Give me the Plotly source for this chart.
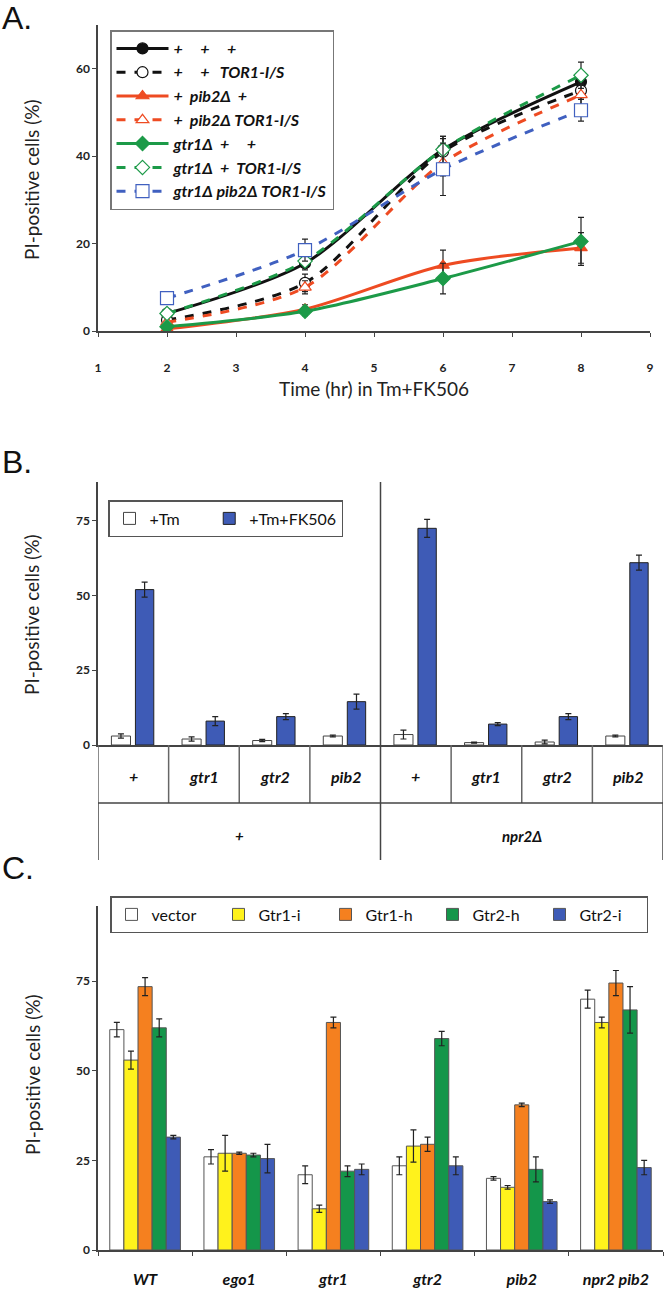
import plotly.graph_objects as go

# ---------------- Panel A data ----------------
time_hr = [2, 4, 6, 8]
a_wt = [4, 15.5, 41.5, 57]
a_wt_err = [0.5, 1.5, 3, 2]
a_tor = [2.5, 11, 41, 55]
a_tor_err = [0.5, 2, 3, 2]
a_pib2 = [0.5, 5, 15, 19]
a_pib2_err = [0.5, 1, 3.5, 3.5]
a_pib2_tor = [2, 10, 38.5, 54]
a_pib2_tor_err = [0.5, 1.5, 3, 2.5]
a_gtr1 = [1, 4.5, 12, 20.5]
a_gtr1_err = [0.5, 1, 3.5, 5.5]
a_gtr1_tor = [4, 16, 41.5, 58.5]
a_gtr1_tor_err = [0.5, 1.5, 3, 3]
a_gtr1_pib2_tor = [7.5, 18.5, 37, 50.5]
a_gtr1_pib2_tor_err = [0.5, 2.5, 6, 2.5]
a_x_ticks = [1, 2, 3, 4, 5, 6, 7, 8, 9]
a_y_ticks = [0, 20, 40, 60]

# ---------------- Panel B data ----------------
b_pos = [0, 1, 2, 3, 4, 5, 6, 7]
b_row1 = ["+", "gtr1", "gtr2", "pib2", "+", "gtr1", "gtr2", "pib2"]
b_row2 = ["+", "npr2Δ"]
b_tm = [3, 2, 1.5, 3, 3.5, 0.8, 1, 3]
b_tm_err = [0.7, 0.7, 0.4, 0.3, 1.5, 0.2, 0.6, 0.3]
b_fk = [52, 8, 9.5, 14.5, 72.5, 7, 9.5, 61]
b_fk_err = [2.5, 1.5, 1, 2.5, 3, 0.5, 1, 2.5]
b_y_ticks = [0, 25, 50, 75]

# ---------------- Panel C data ----------------
c_strains = ["WT", "ego1", "gtr1", "gtr2", "pib2", "npr2 pib2"]
c_vector = [61.5, 26, 21, 23.5, 20, 70]
c_vector_err = [2, 2, 2.5, 2.5, 0.5, 2.5]
c_gtr1_i = [53, 27, 11.5, 29, 17.5, 63.5]
c_gtr1_i_err = [2.5, 5, 1, 4.5, 0.5, 1.5]
c_gtr1_h = [73.5, 27, 63.5, 29.5, 40.5, 74.5]
c_gtr1_h_err = [2.5, 0.3, 1.5, 2, 0.5, 3.5]
c_gtr2_h = [62, 26.5, 22, 59, 22.5, 67]
c_gtr2_h_err = [2.5, 0.5, 1.5, 2, 3.5, 6.5]
c_gtr2_i = [31.5, 25.5, 22.5, 23.5, 13.5, 23]
c_gtr2_i_err = [0.5, 4, 1.5, 2.5, 0.5, 2]
c_y_ticks = [0, 25, 50, 75]

W, H = 666, 1296
FONT = "Lato, 'Open Sans', sans-serif"
BLACK = "#111111"
RED = "#EE4B22"
GREEN = "#1C9A48"
BLUE = "#4060C0"

def px(xp):
    return xp / W

def py(yp):
    return 1 - yp / H

fig = go.Figure()

def err(arr):
    return dict(type="data", array=arr, color="#222", thickness=1.2, width=3)

# ---------------- Panel A traces ----------------
sp = "\u00a0"
a_series = [
    (a_wt, a_wt_err, f"+{sp*5}+{sp*5}+", BLACK, "solid", "circle", BLACK),
    (a_tor, a_tor_err, f"+{sp*5}+{sp*3}TOR1-I/S", BLACK, "dash", "circle", "white"),
    (a_pib2, a_pib2_err, f"+{sp*2}pib2Δ{sp*2}+", RED, "solid", "triangle-up", RED),
    (a_pib2_tor, a_pib2_tor_err, f"+{sp*2}pib2Δ TOR1-I/S", RED, "dash", "triangle-up", "white"),
    (a_gtr1, a_gtr1_err, f"gtr1Δ{sp*2}+{sp*5}+", GREEN, "solid", "diamond", GREEN),
    (a_gtr1_tor, a_gtr1_tor_err, f"gtr1Δ{sp*2}+{sp*2}TOR1-I/S", GREEN, "dash", "diamond", "white"),
    (a_gtr1_pib2_tor, a_gtr1_pib2_tor_err, "gtr1Δ pib2Δ TOR1-I/S", BLUE, "dash", "square", "white"),
]
for vals, e, name, col, dash, sym, fill in a_series:
    size = 13 if sym == "square" else 11
    fig.add_trace(go.Scatter(
        x=time_hr, y=vals, error_y=err(e), name=f"<b><i>{name}</i></b>",
        mode="lines+markers", line=dict(color=col, width=3, dash=dash, shape="spline", smoothing=0.8),
        marker=dict(symbol=sym, size=size, color=fill, line=dict(color=col, width=1.2)),
        xaxis="x", yaxis="y", legend="legend",
    ))

# ---------------- Panel B traces ----------------
fig.add_trace(go.Bar(
    x=b_pos, y=b_tm, error_y=err(b_tm_err), name="+Tm" + sp * 6, width=0.27, offset=-0.31,
    marker=dict(color="white", line=dict(color="#444", width=1)),
    xaxis="x2", yaxis="y2", legend="legend2",
))
fig.add_trace(go.Bar(
    x=b_pos, y=b_fk, error_y=err(b_fk_err), name="+Tm+FK506", width=0.26, offset=0.03,
    marker=dict(color="#3E5BB6", line=dict(color="#222", width=1)),
    xaxis="x2", yaxis="y2", legend="legend2",
))

# ---------------- Panel C traces ----------------
c_series = [
    (c_vector, c_vector_err, "vector", "white"),
    (c_gtr1_i, c_gtr1_i_err, "Gtr1-i", "#FFF21C"),
    (c_gtr1_h, c_gtr1_h_err, "Gtr1-h", "#F5801F"),
    (c_gtr2_h, c_gtr2_h_err, "Gtr2-h", "#14964A"),
    (c_gtr2_i, c_gtr2_i_err, "Gtr2-i", "#3E5BB6"),
]
bw = 0.15
for i, (vals, e, name, col) in enumerate(c_series):
    fig.add_trace(go.Bar(
        x=c_strains, y=vals, error_y=err(e), name=name, width=bw, offset=-2.5 * bw + i * bw,
        marker=dict(color=col, line=dict(color="#555", width=1)),
        xaxis="x3", yaxis="y3", legend="legend3",
    ))

# ---------------- Axes ----------------
tickfont = dict(family=FONT, size=12, color="#222", weight=700)
axis_common = dict(showgrid=False, zeroline=False, showline=True, linecolor="#444", linewidth=1.5,
                   ticks="outside", ticklen=4, tickcolor="#444", tickfont=tickfont, automargin=False)

fig.update_layout(
    template="none",
    xaxis=dict(domain=[px(98), px(650)], range=[1, 9], tickvals=a_x_ticks, anchor="y",
               ticklabelstandoff=21, **axis_common),
    yaxis=dict(domain=[py(331), py(25)], range=[0, 70], tickvals=a_y_ticks, anchor="x", **axis_common),
    xaxis2=dict(domain=[px(98), px(663)], range=[-0.5, 7.5], anchor="y2", showticklabels=False,
                showgrid=False, zeroline=False, showline=True, linecolor="#444", linewidth=1.5, ticks="",
                automargin=False),
    yaxis2=dict(domain=[py(745), py(482)], range=[0, 88], tickvals=b_y_ticks, anchor="x2", **axis_common),
    xaxis3=dict(domain=[px(98), px(663)], anchor="y3", type="category", tickson="boundaries",
                tickvals=c_strains, ticktext=[f"<b><i>{s}</i></b>" for s in c_strains],
                ticklabelstandoff=14,
                **{**axis_common, "tickfont": dict(family=FONT, size=16, color="#111")}),
    yaxis3=dict(domain=[py(1250), py(906)], range=[0, 96], tickvals=c_y_ticks, anchor="x3", **axis_common),
)

fig.update_layout(
    width=W, height=H, margin=dict(l=0, r=0, t=0, b=0, pad=0, autoexpand=False),
    paper_bgcolor="white", plot_bgcolor="white",
    barmode="overlay",
    font=dict(family=FONT, color="#111"),
    legend=dict(x=px(110), y=py(30), xanchor="left", yanchor="top", bordercolor="#777", borderwidth=1.5,
                bgcolor="white", font=dict(family=FONT, size=16, color="#111"), tracegroupgap=0, itemwidth=52),
    legend2=dict(x=px(108), y=py(500), xanchor="left", yanchor="top", orientation="h",
                 bordercolor="#555", borderwidth=1.5, bgcolor="white", itemwidth=30,
                 font=dict(family=FONT, size=16, color="#111")),
    legend3=dict(x=px(110), y=py(896), xanchor="left", yanchor="top", orientation="h",
                 bordercolor="#555", borderwidth=1.5, bgcolor="white",
                 font=dict(family=FONT, size=16, color="#111"), entrywidth=62, itemwidth=30),
)

# ---------------- Table for panel B ----------------
shapes = []
line_style = dict(color="#444", width=1.5)
shapes.append(dict(type="line", xref="x2", yref="paper", x0=3.5, x1=3.5, y0=py(860), y1=py(482), line=line_style))
for b in [-0.5, 0.5, 1.5, 2.5, 4.5, 5.5, 6.5, 7.5]:
    shapes.append(dict(type="line", xref="x2", yref="paper", x0=b, x1=b, y0=py(803), y1=py(745),
                       line=dict(color="#666", width=1.5)))
shapes.append(dict(type="line", xref="x2", yref="paper", x0=-0.5, x1=7.5, y0=py(803), y1=py(803), line=line_style))
for b in [-0.5, 7.5]:
    shapes.append(dict(type="line", xref="x2", yref="paper", x0=b, x1=b, y0=py(860), y1=py(803), line=line_style))

annotations = []
for pos, lab in zip(b_pos, b_row1):
    annotations.append(dict(x=pos, y=py(776), xref="x2", yref="paper", text=f"<b><i>{lab}</i></b>",
                            showarrow=False, yanchor="middle", font=dict(family=FONT, size=16, color="#111")))
for pos, lab in zip([1.5, 5.5], b_row2):
    annotations.append(dict(x=pos, y=py(836), xref="x2", yref="paper", text=f"<b><i>{lab}</i></b>",
                            showarrow=False, yanchor="middle", font=dict(family=FONT, size=15, color="#111")))

ytitle_font = dict(family=FONT, size=19, color="#222")
for yc in [180, 615, 1075]:
    annotations.append(dict(x=px(32), y=py(yc), xref="paper", yref="paper", text="PI-positive cells (%)",
                            textangle=-90, showarrow=False, xanchor="center", yanchor="middle", font=ytitle_font))
annotations.append(dict(x=px(374), y=py(388), xref="paper", yref="paper", text="Time (hr) in Tm+FK506",
                        showarrow=False, xanchor="center", yanchor="middle",
                        font=dict(family=FONT, size=19, color="#222")))
for lab, yc in [("A.", 18), ("B.", 462), ("C.", 868)]:
    annotations.append(dict(x=0, y=py(yc), xref="paper", yref="paper", text=lab, xanchor="left", yanchor="middle",
                            showarrow=False, font=dict(family="Liberation Sans, Arial", size=32, color="#111")))

fig.update_layout(shapes=shapes, annotations=annotations)

fig.write_html("out.html", config={"displayModeBar": False},
               post_script="document.body.style.margin='0px';")
